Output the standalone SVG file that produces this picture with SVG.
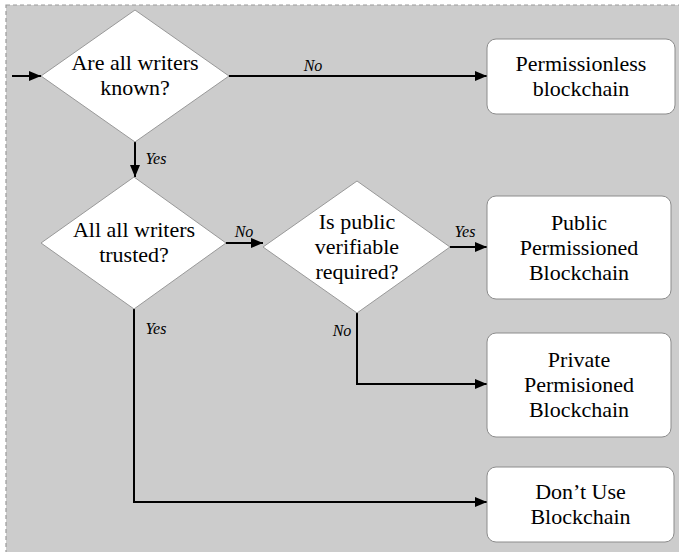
<svg xmlns="http://www.w3.org/2000/svg" width="679" height="552" viewBox="0 0 679 552">
  <defs>
    <marker id="arrow" viewBox="0 0 12 10" refX="12" refY="5" markerWidth="12" markerHeight="10" markerUnits="userSpaceOnUse" orient="auto">
      <path d="M0,0 L12,5 L0,10 z" fill="#000000"/>
    </marker>
  </defs>

  <!-- dashed frame with grey fill -->
  <rect x="6" y="5" width="700" height="600" fill="#cccccc" stroke="#9a9a9a" stroke-width="1.2" stroke-dasharray="4 3"/>

  <g id="connectors" fill="none" stroke="#000000" stroke-width="2">
    <path d="M12,76 L41,76" marker-end="url(#arrow)"/>
    <path d="M229,76 L487,76" marker-end="url(#arrow)"/>
    <path d="M135,142 L135,177" marker-end="url(#arrow)"/>
    <path d="M226,243 L263,243" marker-end="url(#arrow)"/>
    <path d="M450,247 L487,247" marker-end="url(#arrow)"/>
    <path d="M357,313 L357,384 L487,384" marker-end="url(#arrow)"/>
    <path d="M134,309 L134,502 L487,502" marker-end="url(#arrow)"/>
  </g>
  <g id="connector-labels">
    <text font-family="Times New Roman" font-size="16" font-style="italic" text-anchor="middle" x="313" y="71">No</text>
    <text font-family="Times New Roman" font-size="16" font-style="italic" text-anchor="middle" x="156" y="164">Yes</text>
    <text font-family="Times New Roman" font-size="16" font-style="italic" text-anchor="middle" x="244" y="237">No</text>
    <text font-family="Times New Roman" font-size="16" font-style="italic" text-anchor="middle" x="465" y="237">Yes</text>
    <text font-family="Times New Roman" font-size="16" font-style="italic" text-anchor="middle" x="342" y="336">No</text>
    <text font-family="Times New Roman" font-size="16" font-style="italic" text-anchor="middle" x="156" y="334">Yes</text>
  </g>

  <g id="writers-known">
    <polygon points="135,10 229,76 135,142 41,76" fill="#ffffff" stroke="#999999"/>
    <text font-family="Times New Roman" font-size="22" text-anchor="middle" x="135" y="70">Are all writers</text>
    <text font-family="Times New Roman" font-size="22" text-anchor="middle" x="135" y="95">known?</text>
  </g>

  <g id="writers-trusted">
    <polygon points="134,177 226,243 134,309 41,243" fill="#ffffff" stroke="#999999"/>
    <text font-family="Times New Roman" font-size="22" text-anchor="middle" x="134" y="237">All all writers</text>
    <text font-family="Times New Roman" font-size="22" text-anchor="middle" x="134" y="262">trusted?</text>
  </g>

  <g id="public-verifiable">
    <polygon points="357,181 450,247 357,313 263,247" fill="#ffffff" stroke="#999999"/>
    <text font-family="Times New Roman" font-size="22" text-anchor="middle" x="357" y="229">Is public</text>
    <text font-family="Times New Roman" font-size="22" text-anchor="middle" x="357" y="254">verifiable</text>
    <text font-family="Times New Roman" font-size="22" text-anchor="middle" x="357" y="279">required?</text>
  </g>

  <g id="permissionless">
    <rect x="487" y="39" width="188" height="75" rx="9" fill="#ffffff" stroke="#8c8c8c"/>
    <text font-family="Times New Roman" font-size="22" text-anchor="middle" x="581" y="71">Permissionless</text>
    <text font-family="Times New Roman" font-size="22" text-anchor="middle" x="581" y="96">blockchain</text>
  </g>

  <g id="public-permissioned">
    <rect x="487" y="196" width="184" height="103" rx="9" fill="#ffffff" stroke="#8c8c8c"/>
    <text font-family="Times New Roman" font-size="22" text-anchor="middle" x="579" y="230">Public</text>
    <text font-family="Times New Roman" font-size="22" text-anchor="middle" x="579" y="255">Permissioned</text>
    <text font-family="Times New Roman" font-size="22" text-anchor="middle" x="579" y="280">Blockchain</text>
  </g>

  <g id="private-permissioned">
    <rect x="487" y="333" width="184" height="104" rx="9" fill="#ffffff" stroke="#8c8c8c"/>
    <text font-family="Times New Roman" font-size="22" text-anchor="middle" x="579" y="367">Private</text>
    <text font-family="Times New Roman" font-size="22" text-anchor="middle" x="579" y="392">Permisioned</text>
    <text font-family="Times New Roman" font-size="22" text-anchor="middle" x="579" y="417">Blockchain</text>
  </g>

  <g id="dont-use">
    <rect x="487" y="467" width="187" height="75" rx="9" fill="#ffffff" stroke="#8c8c8c"/>
    <text font-family="Times New Roman" font-size="22" text-anchor="middle" x="580.5" y="499">Don&#8217;t Use</text>
    <text font-family="Times New Roman" font-size="22" text-anchor="middle" x="580.5" y="524">Blockchain</text>
  </g>
</svg>
